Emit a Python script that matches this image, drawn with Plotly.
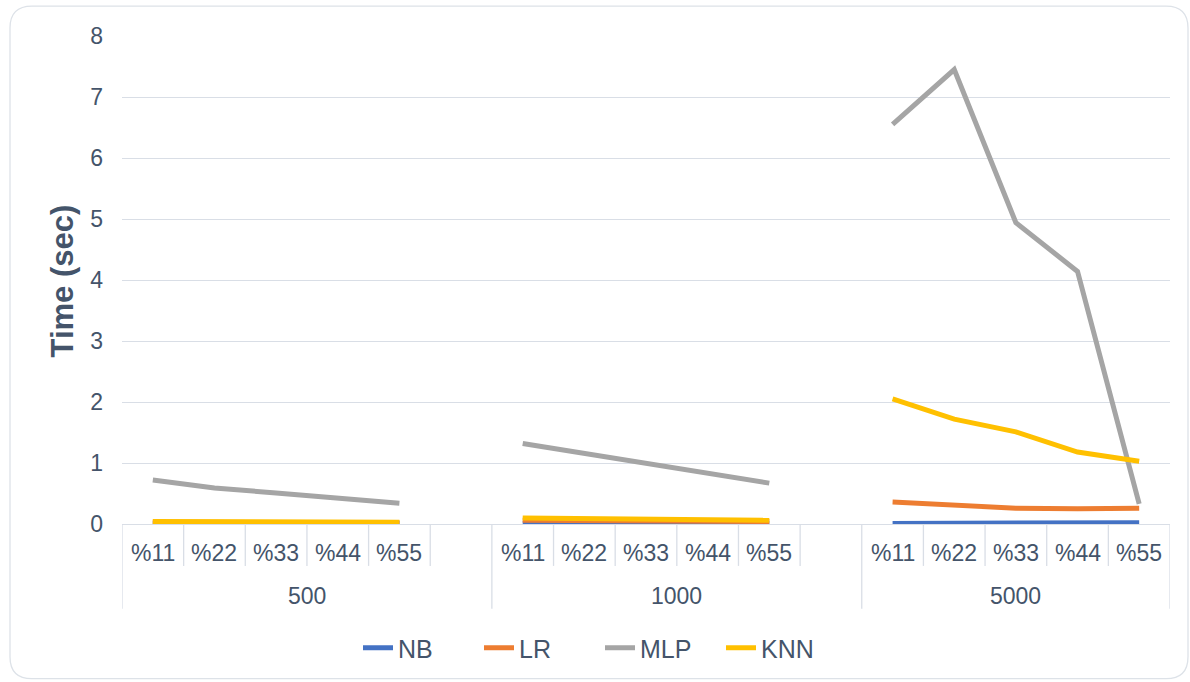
import plotly.graph_objects as go

# Category structure: dataset size groups, each split by test ratio
groups = ["500", "1000", "5000"]
ratios = ["%11", "%22", "%33", "%44", "%55"]

# Training time (sec) per group, in ratio order
nb_500 = [0.01, 0.01, 0.01, 0.01, 0.01]
nb_1000 = [0.01, 0.01, 0.01, 0.01, 0.01]
nb_5000 = [0.01, 0.01, 0.01, 0.02, 0.02]

lr_500 = [0.03, 0.03, 0.03, 0.03, 0.02]
lr_1000 = [0.06, 0.05, 0.05, 0.04, 0.04]
lr_5000 = [0.36, 0.31, 0.26, 0.25, 0.26]

mlp_500 = [0.72, 0.59, 0.51, 0.43, 0.34]
mlp_1000 = [1.32, 1.16, 0.99, 0.82, 0.67]
mlp_5000 = [6.55, 7.45, 4.94, 4.14, 0.33]

knn_500 = [0.04, 0.04, 0.04, 0.04, 0.03]
knn_1000 = [0.10, 0.09, 0.08, 0.07, 0.06]
knn_5000 = [2.05, 1.72, 1.51, 1.18, 1.03]

series = [
    ("NB", "#4472C4", [nb_500, nb_1000, nb_5000]),
    ("LR", "#ED7D31", [lr_500, lr_1000, lr_5000]),
    ("MLP", "#A5A5A5", [mlp_500, mlp_1000, mlp_5000]),
    ("KNN", "#FFC000", [knn_500, knn_1000, knn_5000]),
]

# Slot layout: each group gets its ratios, followed by an empty slot
# (except the last group), which breaks the line between groups.
slot_labels = []
slot_group = []
for gi, g in enumerate(groups):
    for r in ratios:
        slot_labels.append(r)
        slot_group.append(g)
    if gi < len(groups) - 1:
        slot_labels.append("")
        slot_group.append(g)
n_slots = len(slot_labels)
x_pos = list(range(n_slots))


def spread(per_group):
    out = []
    for gi, vals in enumerate(per_group):
        out.extend(vals)
        if gi < len(per_group) - 1:
            out.append(None)
    return out


TEXT = "#44546A"
GRID = "#D9DEE6"
FONT = "Liberation Sans, Arial, sans-serif"
TICK_SIZE = 23

fig = go.Figure()
for name, color, per_group in series:
    fig.add_trace(go.Scatter(
        x=x_pos, y=spread(per_group), name=name, mode="lines",
        line=dict(color=color, width=5), connectgaps=False,
        hoverinfo="x+y+name",
    ))

# Plot-area geometry in pixels (used to convert to paper coordinates)
W, H = 1190, 682
L, R, T, B = 122, 1170, 36, 525
pw, ph = R - L, B - T


def px_x(p):
    return (p - L) / pw


def px_y(p):
    return (B - p) / ph


shapes = []
annotations = []

# Two-level category axis: dividers and labels
row1_bottom = px_y(567)
row2_bottom = px_y(610)
group_edges = [-0.5]
idx = 0
for gi, g in enumerate(groups):
    count = slot_group.count(g)
    idx += count
    group_edges.append(idx - 0.5)
for k in range(n_slots + 1):
    xb = k - 0.5
    y1 = row2_bottom if xb in group_edges else row1_bottom
    shapes.append(dict(type="line", xref="x", yref="paper", x0=xb, x1=xb,
                       y0=0, y1=y1, line=dict(color=GRID, width=1.3)))

for i, lab in enumerate(slot_labels):
    if lab:
        annotations.append(dict(x=i, y=px_y(554), xref="x", yref="paper",
                                text=lab, showarrow=False,
                                font=dict(size=TICK_SIZE, color=TEXT, family=FONT),
                                xanchor="center", yanchor="middle"))
for gi, g in enumerate(groups):
    cx = (group_edges[gi] + group_edges[gi + 1]) / 2
    annotations.append(dict(x=cx, y=px_y(597), xref="x", yref="paper",
                            text=g, showarrow=False,
                            font=dict(size=TICK_SIZE, color=TEXT, family=FONT),
                            xanchor="center", yanchor="middle"))

# Y-axis title
annotations.append(dict(x=px_x(62), y=px_y(282), xref="paper", yref="paper",
                        text="<b>Time (sec)</b>", textangle=-90, showarrow=False,
                        font=dict(size=31, color=TEXT, family=FONT),
                        xanchor="center", yanchor="middle"))

# Rounded chart-area border
x0, y0, x1, y1, r = 10, 6, 1188, 680, 22
path = (f"M {px_x(x0 + r)} {px_y(y0)} L {px_x(x1 - r)} {px_y(y0)} "
        f"Q {px_x(x1)} {px_y(y0)} {px_x(x1)} {px_y(y0 + r)} "
        f"L {px_x(x1)} {px_y(y1 - r)} Q {px_x(x1)} {px_y(y1)} {px_x(x1 - r)} {px_y(y1)} "
        f"L {px_x(x0 + r)} {px_y(y1)} Q {px_x(x0)} {px_y(y1)} {px_x(x0)} {px_y(y1 - r)} "
        f"L {px_x(x0)} {px_y(y0 + r)} Q {px_x(x0)} {px_y(y0)} {px_x(x0 + r)} {px_y(y0)} Z")
shapes.append(dict(type="path", xref="paper", yref="paper", path=path,
                   line=dict(color="#DDE2E8", width=1.3), layer="below"))

fig.update_layout(
    width=W, height=H,
    margin=dict(l=L, r=W - R, t=T, b=H - B),
    paper_bgcolor="white", plot_bgcolor="white",
    font=dict(family=FONT, color=TEXT, size=TICK_SIZE),
    showlegend=True,
    legend=dict(orientation="h", x=px_x(600), y=px_y(648), xanchor="center",
                yanchor="middle", font=dict(size=25, color=TEXT, family=FONT),
                itemwidth=30, entrywidth=76, entrywidthmode="pixels",
                tracegroupgap=0, bgcolor="rgba(0,0,0,0)"),
    xaxis=dict(range=[-0.5, n_slots - 0.5], showgrid=False, zeroline=False,
               showticklabels=False, showline=False, ticks="", fixedrange=True),
    yaxis=dict(range=[0, 8], dtick=1, showgrid=True, gridcolor=GRID, gridwidth=1.3,
               zeroline=True, zerolinecolor=GRID, zerolinewidth=1.3,
               showline=False, ticks="", ticklabelstandoff=18,
               tickfont=dict(size=TICK_SIZE, color=TEXT, family=FONT)),
    shapes=shapes,
    annotations=annotations,
)

fig.write_html("out.html")
